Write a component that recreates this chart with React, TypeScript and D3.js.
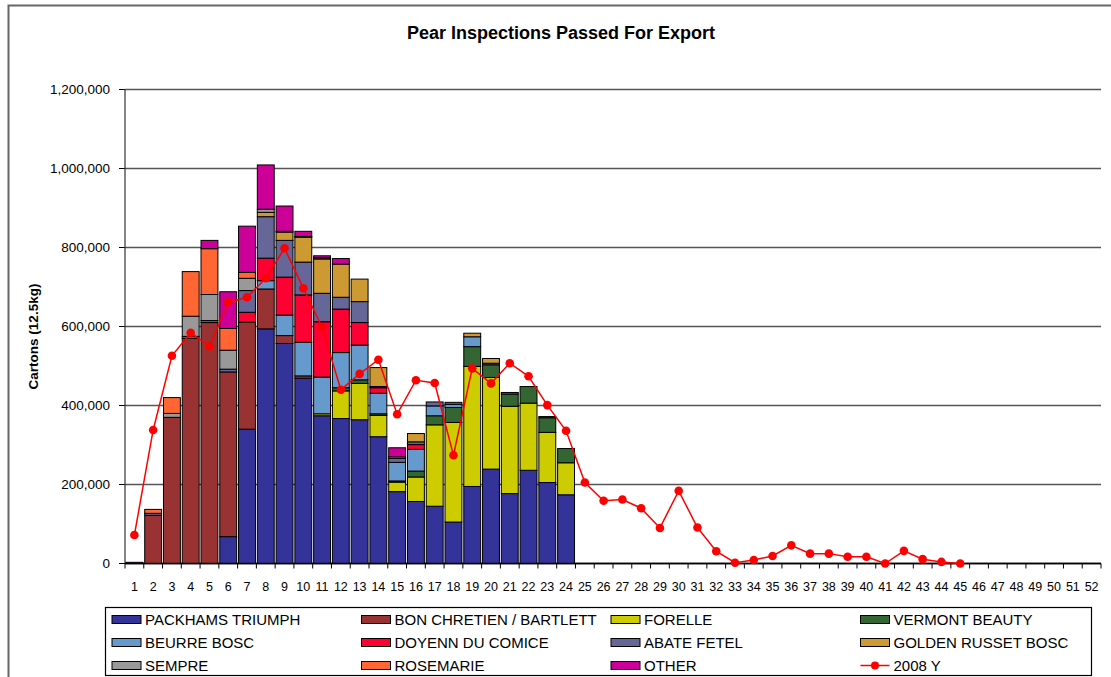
import React from 'react';
import * as d3 from 'd3';

// weeks on the x axis
const weeks = ['1','2','3','4','5','6','7','8','9','10','11','12','13','14','15','16','17','18','19','20','21','22','23','24','25','26','27','28','29','30','31','32','33','34','35','36','37','38','39','40','41','42','43','44','45','46','47','48','49','50','51','52'];

// cartons per variety, weeks 1..24 (thousands)
const packhams = [0,0,0,0,0,68,340,594,557,469,374,367,364,321,182,157,145,105,195,239,177,236,205,174];
const bartlett = [0,122,370,570,610,417,271,101,20,6,0,0,0,0,0,0,0,0,0,0,0,0,0,0];
const forelle = [0,0,0,0,0,0,0,0,0,0,5,70,92,54,24,62,206,252,304,232,221,170,127,81];
const vermont = [0,0,0,0,0,0,0,0,0,0,0,8,9,4,3,15,23,38,50,32,31,42,37,36];
const beurre = [0,0,0,0,0,0,0,21,52,85,93,89,88,52,47,55,25,8,25,0,0,0,0,0];
const comice = [0,0,0,0,0,0,25,57,96,120,140,110,57,14,0,12,0,0,0,0,0,0,0,0];
const abate = [0,5,0,5,5,7,55,105,93,83,72,30,53,3,10,7,10,5,0,4,4,0,3,0];
const golden = [0,0,0,0,0,0,0,11,21,63,87,84,57,48,4,21,0,0,9,12,0,0,0,0];
const sempre = [0,0,10,51,66,48,31,8,2,2,3,0,0,0,0,0,0,0,0,0,0,0,0,0];
const rosemarie = [0,10,40,113,116,55,15,0,0,0,0,0,0,0,0,0,0,0,0,0,0,0,0,0];
const other = [3,0,0,0,21,93,117,112,64,13,5,14,0,0,23,0,0,0,0,0,0,0,0,0];

// 2008 comparison line (thousands), weeks 1..45
const y2008 = [72,338,526,584,550,661,674,722,798,697,598,440,480,516,378,464,457,274,494,456,507,474,401,336,205,159,162,140,90,184,91,31,2,9,19,46,25,25,17,17,0,32,11,4,0];

const yTicks = [0, 200000, 400000, 600000, 800000, 1000000, 1200000];

const series = [
  { name: 'PACKHAMS TRIUMPH', values: packhams, color: '#333399' },
  { name: 'BON CHRETIEN  / BARTLETT', values: bartlett, color: '#993333' },
  { name: 'FORELLE', values: forelle, color: '#CCCC00' },
  { name: 'VERMONT BEAUTY', values: vermont, color: '#336633' },
  { name: 'BEURRE BOSC', values: beurre, color: '#6699CC' },
  { name: 'DOYENN DU COMICE', values: comice, color: '#FF0033' },
  { name: 'ABATE FETEL', values: abate, color: '#666699' },
  { name: 'GOLDEN RUSSET BOSC', values: golden, color: '#CC9933' },
  { name: 'SEMPRE', values: sempre, color: '#999999' },
  { name: 'ROSEMARIE', values: rosemarie, color: '#FF6633' },
  { name: 'OTHER', values: other, color: '#CC0099' },
];

const font = '"Liberation Sans", Arial, sans-serif';

export default function App() {
  const W = 1111, H = 677;
  const m = { left: 125, right: 1101, top: 89.5, bottom: 563.5 };

  const x = d3.scaleBand().domain(weeks).range([m.left, m.right]).paddingInner(0.1).paddingOuter(0.05);
  const step = x.step();
  const y = d3.scaleLinear().domain([0, 1200000]).range([m.bottom, m.top]);

  const rows = series[0].values.map((_, i) => {
    const r: any = { week: weeks[i] };
    series.forEach(s => { r[s.name] = s.values[i] * 1000; });
    return r;
  });
  const stacked = d3.stack().keys(series.map(s => s.name))(rows);

  const line = d3.line<number>()
    .x((_, i) => (x(weeks[i]) as number) + x.bandwidth() / 2)
    .y(d => y(d * 1000));

  const fmt = d3.format(',');

  // legend layout
  const legendItems = [...series.map(s => ({ name: s.name, color: s.color, isLine: false })), { name: '2008 Y', color: '#FF0000', isLine: true }];
  const colX = d3.scaleLinear().domain([0, 1]).range([112, 361.5]);
  const rowY = d3.scaleLinear().domain([0, 1]).range([619.5, 642.5]);

  return (
    <svg width={W} height={H} style={{ position: 'absolute', left: 0, top: 0, background: '#fff' }} fontFamily={font}>
      {/* outer frame */}
      <path d={`M8.5,${H} V5.5 H${W}`} fill="none" stroke="#666" strokeWidth={2} />

      <text x={561} y={39} textAnchor="middle" fontSize={18} fontWeight="bold">Pear Inspections Passed For Export</text>

      {/* gridlines + y ticks */}
      {yTicks.map(t => (
        <g key={t}>
          <line x1={m.left} x2={m.right} y1={y(t)} y2={y(t)} stroke={t === 0 ? '#000' : '#555'} strokeWidth={1.5} />
          <line x1={m.left - 6} x2={m.left} y1={y(t)} y2={y(t)} stroke="#000" />
          <text x={110} y={y(t) + 4.5} textAnchor="end" fontSize={13.5}>{fmt(t)}</text>
        </g>
      ))}
      <line x1={m.left} x2={m.left} y1={m.top} y2={m.bottom} stroke="#333" strokeWidth={1.2} />

      <text transform={`translate(38,${(m.top + m.bottom) / 2 + 10}) rotate(-90)`} textAnchor="middle" fontSize={13.5} fontWeight="bold">Cartons  (12.5kg)</text>

      {/* stacked bars */}
      {stacked.map((layer, si) => (
        <g key={layer.key} fill={series[si].color}>
          {layer.map((d, i) => d[1] - d[0] > 0 ? (
            <rect key={i} x={x(weeks[i])} width={x.bandwidth()} y={y(d[1])} height={y(d[0]) - y(d[1])} stroke="#000" strokeWidth={1} />
          ) : null)}
        </g>
      ))}

      {/* x ticks and labels */}
      {weeks.map((w, i) => (
        <g key={w}>
          <line x1={m.left + step * (i + 1)} x2={m.left + step * (i + 1)} y1={m.bottom} y2={m.bottom + 5} stroke="#000" />
          <text x={(x(w) as number) + x.bandwidth() / 2} y={591} textAnchor="middle" fontSize={12.5}>{w}</text>
        </g>
      ))}
      <line x1={m.left} x2={m.left} y1={m.bottom} y2={m.bottom + 5} stroke="#000" />
      <line x1={m.left} x2={m.right} y1={m.bottom} y2={m.bottom} stroke="#000" strokeWidth={1.5} />

      {/* 2008 line */}
      <path d={line(y2008) || ''} fill="none" stroke="#FF0000" strokeWidth={1.5} />
      {y2008.map((v, i) => (
        <circle key={i} cx={(x(weeks[i]) as number) + x.bandwidth() / 2} cy={y(v * 1000)} r={4.3} fill="#FF0000" />
      ))}

      {/* legend */}
      <rect x={105.5} y={607.5} width={986} height={68} fill="#fff" stroke="#000" strokeWidth={1.2} />
      {legendItems.map((it, k) => {
        const cx = colX(k % 4), cy = rowY(Math.floor(k / 4));
        return (
          <g key={it.name}>
            {it.isLine ? (
              <g>
                <line x1={cx} x2={cx + 29} y1={cy} y2={cy} stroke="#FF0000" strokeWidth={1.5} />
                <circle cx={cx + 14.5} cy={cy} r={4} fill="#FF0000" />
              </g>
            ) : (
              <rect x={cx} y={cy - 4} width={29} height={8} fill={it.color} stroke="#000" strokeWidth={1} />
            )}
            <text x={cx + 33} y={cy + 5.5} fontSize={15}>{it.name}</text>
          </g>
        );
      })}
    </svg>
  );
}
